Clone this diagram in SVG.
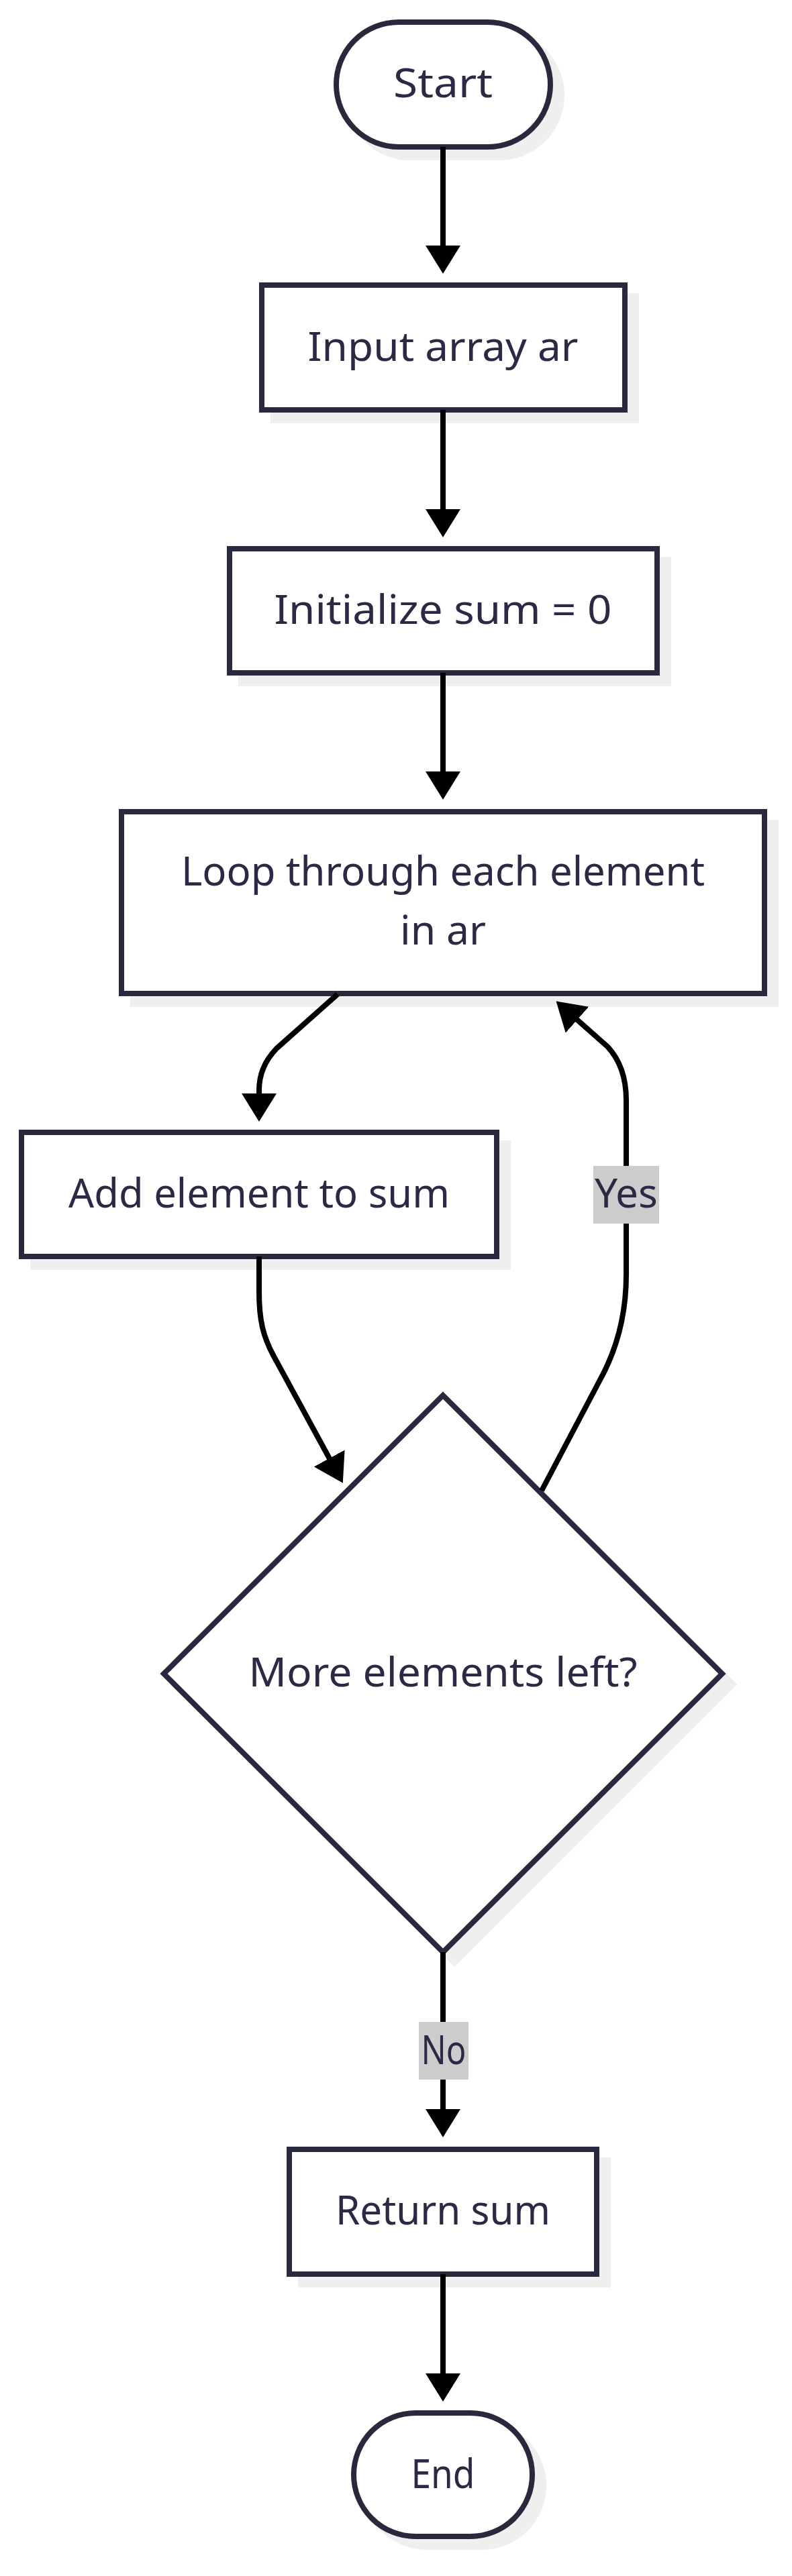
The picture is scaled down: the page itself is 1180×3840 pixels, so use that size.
<svg xmlns="http://www.w3.org/2000/svg" width="1180" height="3840" viewBox="0 0 1180 3840">
<defs>
<marker id="arrow" markerUnits="userSpaceOnUse" viewBox="0 0 42 52" markerWidth="42" markerHeight="52" refX="32" refY="26" orient="auto"><path d="M0,0 L42,26 L0,52 z" fill="#000"/></marker>
<style>
.shape{fill:#fff;stroke:#29293d;stroke-width:8}
.shadow{fill:#efefef;stroke:#efefef;stroke-width:8}
.label{font-family:"Noto Sans","Liberation Sans",sans-serif;font-size:60px;fill:#2a2a45;text-anchor:middle}
.edge{fill:none;stroke:#000;stroke-width:8;marker-end:url(#arrow)}
.elabel{fill:#cccccc}
</style>
</defs>
<rect width="1180" height="3840" fill="#fff"/>

<g id="node-start">
<rect class="shadow" x="518" y="49" width="319" height="186" rx="93"/>
<rect class="shape" x="501" y="33" width="319" height="186" rx="93"/>
<text class="label" x="660" y="145" textLength="148" lengthAdjust="spacingAndGlyphs">Start</text>
</g>

<g id="node-input">
<rect class="shadow" x="407" y="441" width="541" height="186"/>
<rect class="shape" x="390" y="425" width="541" height="186"/>
<text class="label" x="660" y="538" textLength="403" lengthAdjust="spacingAndGlyphs">Input array ar</text>
</g>

<g id="node-init">
<rect class="shadow" x="359" y="834" width="637" height="185"/>
<rect class="shape" x="342" y="818" width="637" height="185"/>
<text class="label" x="660" y="930" textLength="503" lengthAdjust="spacingAndGlyphs">Initialize sum = 0</text>
</g>

<g id="node-loop">
<rect class="shadow" x="198" y="1226" width="958" height="271"/>
<rect class="shape" x="181" y="1210" width="958" height="271"/>
<text class="label" x="660" y="1320" textLength="780" lengthAdjust="spacingAndGlyphs">Loop through each element</text>
<text class="label" x="660" y="1408" textLength="128" lengthAdjust="spacingAndGlyphs">in ar</text>
</g>

<g id="node-add">
<rect class="shadow" x="49" y="1704" width="708" height="185"/>
<rect class="shape" x="32" y="1688" width="708" height="185"/>
<text class="label" x="386" y="1800" textLength="568" lengthAdjust="spacingAndGlyphs">Add element to sum</text>
</g>

<g id="node-decision">
<polygon class="shadow" points="677,2096 1093,2511 677,2926 261,2511"/>
<polygon class="shape" points="660,2080 1076,2495 660,2910 244,2495"/>
<text class="label" x="660" y="2514" textLength="579" lengthAdjust="spacingAndGlyphs">More elements left?</text>
</g>

<g id="node-return">
<rect class="shadow" x="448" y="3220" width="458" height="186"/>
<rect class="shape" x="431" y="3204" width="458" height="186"/>
<text class="label" x="660" y="3316" textLength="320" lengthAdjust="spacingAndGlyphs">Return sum</text>
</g>

<g id="node-end">
<rect class="shadow" x="544" y="3613" width="266" height="184" rx="92"/>
<rect class="shape" x="527" y="3597" width="266" height="184" rx="92"/>
<text class="label" x="660" y="3709" textLength="95" lengthAdjust="spacingAndGlyphs">End</text>
</g>

<g id="connectors">
<path class="edge" d="M660,219 L660,398"/>
<path class="edge" d="M660,611 L660,791"/>
<path class="edge" d="M660,1003 L660,1182"/>
<path class="edge" d="M503,1482 L412,1563 Q386,1590 386,1625 L386,1662"/>
<path class="edge" d="M386,1873 L386,1925 C386,1968 392,1992 407,2020 L506,2202"/>
<path class="edge" d="M807,2222 L895,2055 Q933,1985 933,1900 L933,1640 Q933,1590 905,1560 L836,1499"/>
<path class="edge" d="M660,2910 L660,3176"/>
<path class="edge" d="M660,3390 L660,3570"/>
</g>

<g id="edge-labels">
<g id="label-yes">
<rect class="elabel" x="884" y="1738" width="98" height="86"/>
<text class="label" x="933" y="1800" textLength="94" lengthAdjust="spacingAndGlyphs">Yes</text>
</g>
<g id="label-no">
<rect class="elabel" x="624" y="3014" width="74" height="86"/>
<text class="label" x="661" y="3077" textLength="67" lengthAdjust="spacingAndGlyphs">No</text>
</g>
</g>
</svg>
